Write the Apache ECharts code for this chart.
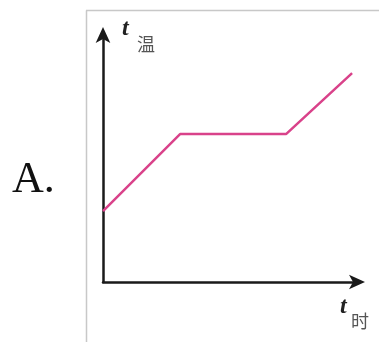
<!DOCTYPE html>
<html>
<head>
<meta charset="utf-8">
<script src="https://cdn.jsdelivr.net/npm/echarts@6/dist/echarts.min.js"></script>
<style>
  html, body { margin: 0; padding: 0; background: #fff; }
  #chart { width: 379px; height: 342px; }
</style>
</head>
<body>
<div id="chart"></div>
<script>
  // time (x) and temperature (y) of the heating curve, arbitrary units
  const timeValues = [0, 30.1, 71.5, 97.3];
  const tempValues = [28.5, 59.4, 59.4, 83.9];
  const optionLabel = 'A.';
  const yName = ['t', '温'];
  const xName = ['t', '时'];

  const chart = echarts.init(document.getElementById('chart'));

  const points = timeValues.map((t, i) => [t, tempValues[i]]);

  const axisLine = {
    show: true,
    symbol: ['none', 'arrow'],
    symbolSize: [11, 16],
    symbolOffset: [0, 6],
    lineStyle: { color: '#1a1a1a', width: 2.5 }
  };

  const serif = '"Liberation Serif", "DejaVu Serif", serif';
  const cjk = '"Noto Sans CJK SC", sans-serif';

  chart.setOption({
    animation: false,
    grid: { left: 103, right: 20, top: 33, bottom: 60 },
    xAxis: {
      type: 'value', min: 0, max: 100,
      axisLine: axisLine,
      axisTick: { show: false }, axisLabel: { show: false }, splitLine: { show: false }
    },
    yAxis: {
      type: 'value', min: 0, max: 100,
      axisLine: axisLine,
      axisTick: { show: false }, axisLabel: { show: false }, splitLine: { show: false }
    },
    series: [{
      type: 'line',
      data: points,
      showSymbol: false,
      lineStyle: { color: '#d9428a', width: 2.5 }
    }],
    graphic: [
      // frame around the figure
      { type: 'line', shape: { x1: 86.5, y1: 10.5, x2: 86.5, y2: 342 }, style: { stroke: '#c8c8c8', lineWidth: 1.5 } },
      { type: 'line', shape: { x1: 86, y1: 10.5, x2: 379, y2: 10.5 }, style: { stroke: '#c8c8c8', lineWidth: 1.5 } },
      // option label
      { type: 'text', left: 12, top: 158, style: { text: optionLabel, font: '44px ' + serif, fill: '#111' } },
      // y axis name
      { type: 'text', left: 122, top: 17, style: { text: yName[0], font: 'italic bold 24px ' + serif, fill: '#222' } },
      { type: 'text', left: 137, top: 35, style: { text: yName[1], font: '18px ' + cjk, fill: '#555' } },
      // x axis name
      { type: 'text', left: 340, top: 295, style: { text: xName[0], font: 'italic bold 24px ' + serif, fill: '#222' } },
      { type: 'text', left: 351, top: 312, style: { text: xName[1], font: '18px ' + cjk, fill: '#555' } }
    ]
  });
</script>
</body>
</html>
